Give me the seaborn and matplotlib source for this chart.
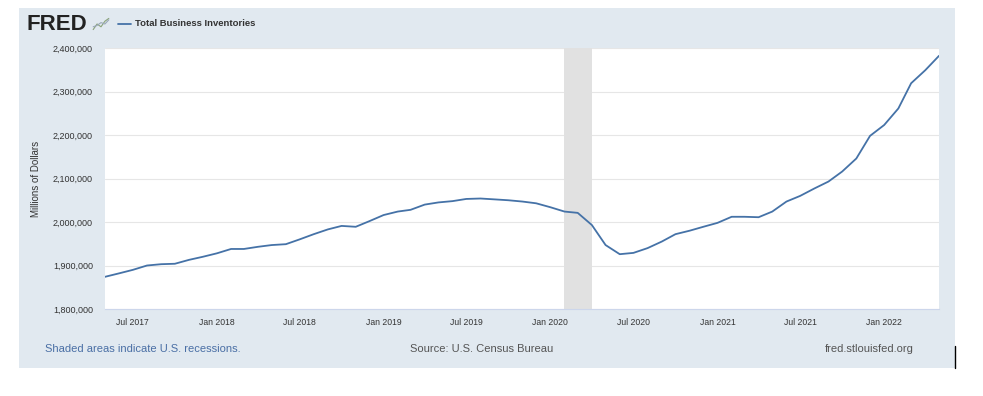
import numpy as np
import pandas as pd
import matplotlib
matplotlib.use("Agg")
import matplotlib.pyplot as plt
import matplotlib.dates as mdates
from matplotlib.patches import Rectangle
from matplotlib.ticker import FuncFormatter
import seaborn as sns

# Total Business Inventories, millions of dollars, monthly May 2017 - May 2022
start_month = "2017-05-01"
inventories = [
    1874000, 1882000, 1890000, 1900000, 1903000, 1904000, 1913000, 1920000,
    1928000, 1938000, 1938000, 1943000, 1947000, 1949000, 1960000, 1972000,
    1983000, 1991000, 1989000, 2002000,
    2016000, 2024000, 2028000, 2040000, 2045000, 2048000, 2053000, 2054000,
    2052000, 2050000, 2047000, 2043000,
    2034000, 2024000, 2021000, 1993000, 1947000, 1926000, 1929000, 1940000,
    1955000, 1972000, 1980000, 1989000,
    1998000, 2012000, 2012000, 2011000, 2024000, 2047000, 2060000, 2077000,
    2093000, 2116000, 2146000, 2198000,
    2223000, 2261000, 2319000, 2349000, 2382000,
]
recession = ("2020-02-01", "2020-04-01")
y_ticks = [1800000, 1900000, 2000000, 2100000, 2200000, 2300000, 2400000]
x_ticks = ["2017-07-01", "2018-01-01", "2018-07-01", "2019-01-01", "2019-07-01",
           "2020-01-01", "2020-07-01", "2021-01-01", "2021-07-01", "2022-01-01"]

df = pd.DataFrame({
    "date": pd.date_range(start_month, periods=len(inventories), freq="MS"),
    "value": inventories,
})

sns.set_style("white")
plt.rcParams["font.family"] = ["Liberation Sans", "DejaVu Sans"]

W, H = 983, 396
fig = plt.figure(figsize=(W / 100, H / 100), dpi=100)
fig.patch.set_facecolor("white")

# light panel behind the chart
panel = Rectangle((19 / W, 1 - 368 / H), (955 - 19) / W, (368 - 8) / H,
                  transform=fig.transFigure, facecolor="#e1e9f0",
                  edgecolor="none", zorder=-10)
fig.add_artist(panel)

ax = fig.add_axes([105 / W, 1 - 309 / H, (939 - 105) / W, (309 - 48) / H])
ax.set_facecolor("white")

ax.axvspan(pd.Timestamp(recession[0]), pd.Timestamp(recession[1]),
           color="#e1e1e1", lw=0, zorder=1)
sns.lineplot(data=df, x="date", y="value", ax=ax, color="#4572a7",
             linewidth=1.3, zorder=3)

ax.set_xlim(pd.Timestamp("2017-05-01"), pd.Timestamp("2022-05-01"))
ax.set_ylim(y_ticks[0], y_ticks[-1])
ax.set_yticks(y_ticks)
ax.yaxis.set_major_formatter(FuncFormatter(lambda v, p: f"{int(v):,}"))
ax.set_xticks([pd.Timestamp(t) for t in x_ticks])
ax.xaxis.set_major_formatter(mdates.DateFormatter("%b %Y"))
ax.grid(axis="y", color="#e6e6e6", linewidth=0.8, zorder=0)
ax.set_axisbelow(True)

for s in ["top", "right", "left"]:
    ax.spines[s].set_visible(False)
ax.spines["bottom"].set_color("#ccd6eb")
ax.spines["bottom"].set_linewidth(0.8)
ax.tick_params(axis="y", length=0, labelsize=6.5, labelcolor="#333333", pad=8.6)
ax.tick_params(axis="x", length=6, width=0.6, color="#ccd6eb",
               labelsize=6.2, labelcolor="#333333", pad=0.5)
ax.set_xlabel("")
ax.set_ylabel("Millions of Dollars", fontsize=7, color="#333333", labelpad=9)

# header
fig.text(26 / W, 1 - 24 / H, "FRED", fontsize=16, fontweight="bold",
         color="#222222", va="center", ha="left")
# small logo squiggle next to the wordmark
logo = fig.add_axes([92 / W, 1 - 31 / H, 18 / W, 14 / H])
logo.set_facecolor("#dfe6d8")
logo.plot([0, 1, 2, 3, 4], [0, 2, 1, 3, 4], color="#8aa37a", lw=0.8)
logo.plot([0, 1, 2, 3, 4], [1, 1.5, 2.5, 2, 3.5], color="#9aa8b8", lw=0.8)
logo.set_xlim(-0.3, 4.3)
logo.set_ylim(-0.5, 4.5)
logo.axis("off")

fig.lines.append(plt.Line2D([118 / W, 131 / W], [1 - 24 / H, 1 - 24 / H],
                            transform=fig.transFigure, color="#4572a7", lw=1.3))
fig.text(135 / W, 1 - 24 / H, "Total Business Inventories", fontsize=6.8,
         fontweight="bold", color="#333333", va="center", ha="left")

# footer
fig.text(45 / W, 1 - 349 / H, "Shaded areas indicate U.S. recessions.",
         fontsize=8, color="#4a6fa5", va="center", ha="left")
fig.text(482 / W, 1 - 349 / H, "Source: U.S. Census Bureau",
         fontsize=8, color="#555555", va="center", ha="center")
fig.text(914 / W, 1 - 349 / H, "fred.stlouisfed.org",
         fontsize=8, color="#555555", va="center", ha="right")
fig.lines.append(plt.Line2D([955 / W, 955 / W], [1 - 346 / H, 1 - 368 / H],
                            transform=fig.transFigure, color="black", lw=1))

fig.savefig("out.png", dpi=100)
